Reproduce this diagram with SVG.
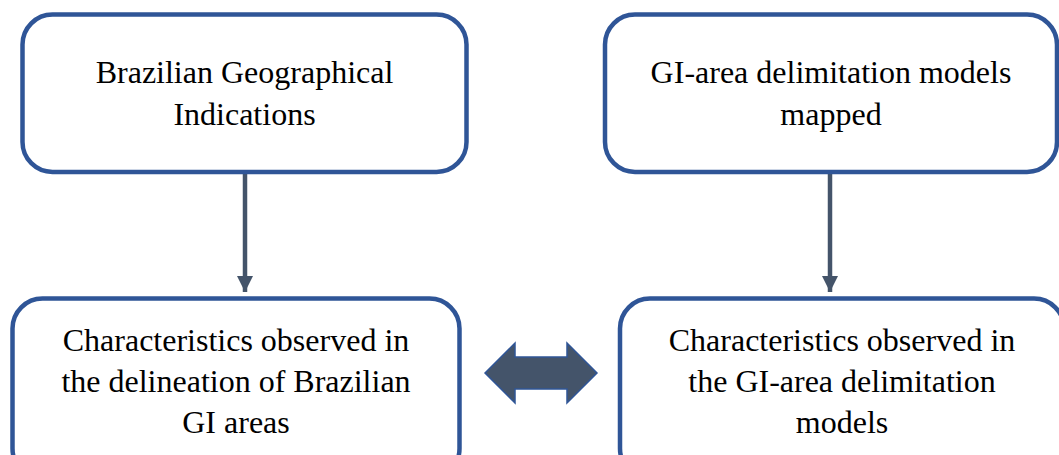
<svg xmlns="http://www.w3.org/2000/svg" width="1059" height="455" viewBox="0 0 1059 455">
<style>
.box{fill:#fff;stroke:#2F5597;stroke-width:4.5}
.t{font-family:"Liberation Serif","Times New Roman",serif;font-size:32px;fill:#000;text-anchor:middle}
.ln{stroke:#44546A;stroke-width:4.5;fill:none}
</style>
<defs>
<marker id="ah" viewBox="0 0 10 10" refX="10" refY="5" markerWidth="16" markerHeight="18" markerUnits="userSpaceOnUse" orient="auto">
<path d="M0,0 L10,5 L0,10 Z" fill="#44546A"/>
</marker>
</defs>
<rect width="1059" height="455" fill="#fff"/>
<g id="connectors">
<line class="ln" x1="245" y1="174" x2="245" y2="292" marker-end="url(#ah)"/>
<line class="ln" x1="830" y1="174" x2="830" y2="292" marker-end="url(#ah)"/>
<path d="M485,373 L515,343 L515,357 L567,357 L567,343 L597,373 L567,403 L567,389 L515,389 L515,403 Z" fill="#44546A" stroke="#2F5597" stroke-width="1.5"/>
</g>
<g id="n1">
<rect class="box" x="22.5" y="14.5" width="444" height="157.5" rx="30"/>
<text class="t" x="244.5" y="83">Brazilian Geographical</text>
<text class="t" x="244.5" y="125">Indications</text>
</g>
<g id="n2">
<rect class="box" x="605" y="14.5" width="452" height="157.5" rx="30"/>
<text class="t" x="831" y="83">GI-area delimitation models</text>
<text class="t" x="831" y="125">mapped</text>
</g>
<g id="n3">
<rect class="box" x="12.5" y="298.5" width="447" height="180" rx="30"/>
<text class="t" x="236" y="351">Characteristics observed in</text>
<text class="t" x="236" y="392">the delineation of Brazilian</text>
<text class="t" x="236" y="433">GI areas</text>
</g>
<g id="n4">
<rect class="box" x="620" y="298.5" width="444" height="180" rx="30"/>
<text class="t" x="842" y="351">Characteristics observed in</text>
<text class="t" x="842" y="392">the GI-area delimitation</text>
<text class="t" x="842" y="433">models</text>
</g>
</svg>
